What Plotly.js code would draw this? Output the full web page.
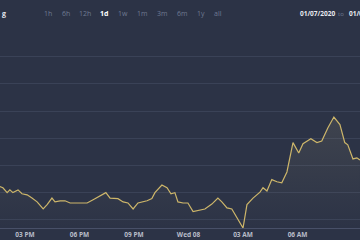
<!DOCTYPE html>
<html>
<head>
<meta charset="utf-8">
<script src="https://cdn.plot.ly/plotly-3.0.1.min.js"></script>
<style>html,body{margin:0;padding:0;background:#2c3346;}#chart{width:360px;height:240px;}</style>
</head>
<body>
<div id="chart"></div>
<script>
const times = [
"2020-01-07 13:37","2020-01-07 13:47","2020-01-07 14:01","2020-01-07 14:10","2020-01-07 14:20",
"2020-01-07 14:37","2020-01-07 14:50","2020-01-07 15:07","2020-01-07 15:23","2020-01-07 15:40",
"2020-01-07 16:00","2020-01-07 16:13","2020-01-07 16:29","2020-01-07 16:39","2020-01-07 16:56",
"2020-01-07 17:12","2020-01-07 17:29","2020-01-07 17:45","2020-01-07 18:25","2020-01-07 18:45",
"2020-01-07 19:08","2020-01-07 19:27","2020-01-07 19:41","2020-01-07 20:07","2020-01-07 20:24",
"2020-01-07 20:40","2020-01-07 20:57","2020-01-07 21:13","2020-01-07 21:43","2020-01-07 21:59",
"2020-01-07 22:09","2020-01-07 22:32","2020-01-07 22:49","2020-01-07 23:02","2020-01-07 23:15",
"2020-01-07 23:25","2020-01-07 23:42","2020-01-07 23:58","2020-01-08 00:15","2020-01-08 00:31",
"2020-01-08 00:54","2020-01-08 01:17","2020-01-08 01:37","2020-01-08 01:50","2020-01-08 02:07",
"2020-01-08 02:23","2020-01-08 02:40","2020-01-08 03:00","2020-01-08 03:13","2020-01-08 03:33",
"2020-01-08 03:56","2020-01-08 04:06","2020-01-08 04:19","2020-01-08 04:35","2020-01-08 04:52",
"2020-01-08 05:08","2020-01-08 05:25","2020-01-08 05:45","2020-01-08 06:04","2020-01-08 06:18",
"2020-01-08 06:44","2020-01-08 07:04","2020-01-08 07:20","2020-01-08 07:40","2020-01-08 08:00",
"2020-01-08 08:20","2020-01-08 08:36","2020-01-08 08:46","2020-01-08 09:03","2020-01-08 09:16",
"2020-01-08 09:26"
];
const prices = [
8061,8059,8050,8055,8050,
8055,8048,8046,8040,8033,
8020,8028,8040,8033,8035,
8035,8031,8031,8031,8037,
8044,8050,8040,8039,8033,
8031,8020,8031,8035,8039,
8050,8064,8059,8048,8050,
8033,8031,8031,8015,8017,
8020,8029,8040,8033,8022,
8020,8004,7985,8028,8040,
8051,8059,8053,8074,8070,
8068,8088,8142,8123,8140,
8149,8142,8145,8169,8189,
8175,8142,8138,8112,8114,
8110
];
const tickTimes = ["2020-01-07 15:00","2020-01-07 18:00","2020-01-07 21:00","2020-01-08 00:00","2020-01-08 03:00","2020-01-08 06:00","2020-01-08 09:00"];
const tickLabels = ["03 PM","06 PM","09 PM","Wed 08","03 AM","06 AM","09 AM"];
const rangeButtons = ["1h","6h","12h","1d","1w","1m","3m","6m","1y","all"];
const activeButton = "1d";
const dateFrom = "01/07/2020";
const dateTo = "01/0";
const titleTail = "g";

const btnX = [48,66,85,104,123,142,162,182,201,218];
const annotations = rangeButtons.map((b,i)=>({
  text: b, xref:'paper', yref:'paper', x: btnX[i]/360, y: 1.081,
  xanchor:'center', yanchor:'middle', showarrow:false,
  font:{family:'Open Sans, sans-serif', size:7, color: b===activeButton ? '#ffffff' : '#6f7a92', weight: b===activeButton ? 700 : 400}
}));
annotations.push({text:dateFrom, xref:'paper', yref:'paper', x:298/360, y:1.081, xanchor:'left', yanchor:'middle', showarrow:false,
  font:{family:'Open Sans, sans-serif', size:6.5, color:'#e8eaf0', weight:700}});
annotations.push({text:'to', xref:'paper', yref:'paper', x:340.5/360, y:1.081, xanchor:'center', yanchor:'middle', showarrow:false,
  font:{family:'Open Sans, sans-serif', size:6, color:'#6f7a92'}});
annotations.push({text:dateTo, xref:'paper', yref:'paper', x:347/360, y:1.081, xanchor:'left', yanchor:'middle', showarrow:false,
  font:{family:'Open Sans, sans-serif', size:6.5, color:'#e8eaf0', weight:700}});
annotations.push({text:titleTail, xref:'paper', yref:'paper', x:0, y:1.085, xanchor:'left', yanchor:'middle', showarrow:false,
  font:{family:'Open Sans, sans-serif', size:7, color:'#e8eaf0', weight:700}});

const trace = {
  x: times, y: prices, type:'scatter', mode:'lines',
  line:{color:'#cdb66a', width:1.2},
  fill:'tozeroy',
  fillgradient:{type:'vertical', start:7985, stop:8189,
    colorscale:[[0,'rgba(180,170,130,0.0)'],[1,'rgba(180,170,130,0.14)']]},
  hoverinfo:'skip'
};

const layout = {
  width:360, height:240,
  margin:{l:0, r:0, t:30, b:12},
  paper_bgcolor:'#2c3346', plot_bgcolor:'#2c3346',
  showlegend:false,
  xaxis:{
    type:'date',
    range:['2020-01-07 13:37:24','2020-01-08 09:26:18'],
    tickvals: tickTimes, ticktext: tickLabels,
    showgrid:false, zeroline:false,
    showline:true, linecolor:'#485068', linewidth:1,
    ticks:'', tickfont:{family:'Open Sans, sans-serif', size:6.5, color:'#b8bdc9', weight:700},
    ticklabelstandoff:0
  },
  yaxis:{
    range:[7985, 8349], dtick:50, tick0:8000,
    showgrid:true, gridcolor:'#3a4257', gridwidth:1,
    zeroline:false, showticklabels:false, ticks:''
  },
  annotations: annotations
};

Plotly.newPlot('chart', [trace], layout, {displayModeBar:false, staticPlot:true});
</script>
</body>
</html>
